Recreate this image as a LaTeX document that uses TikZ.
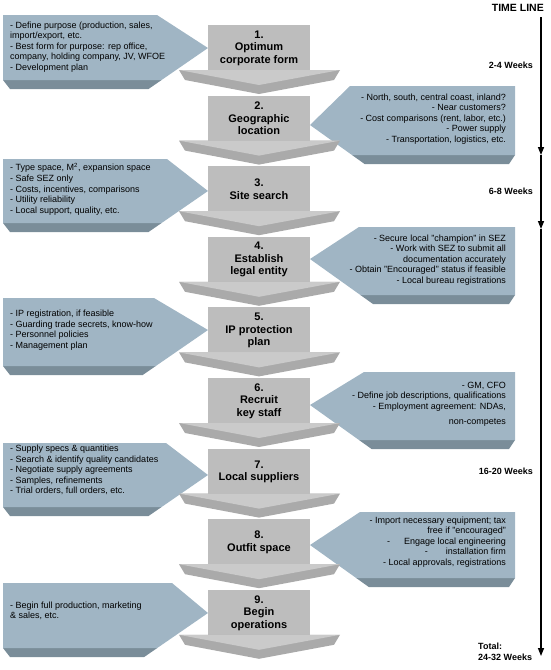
\documentclass[tikz,border=0pt]{standalone}
\usepackage{fontspec}
\setmainfont{Liberation Sans}
\usepackage{tikz}
\usetikzlibrary{arrows.meta,positioning}
\usepackage{xcolor}

\definecolor{boxgray}{HTML}{BDBDBD}
\definecolor{headtop}{HTML}{CACACA}
\definecolor{headfront}{HTML}{AAAAAA}
\definecolor{notelight}{HTML}{A0B5C4}
\definecolor{notedark}{HTML}{7A8D99}

\begin{document}
\begin{tikzpicture}[x=1pt,y=-1pt,
    stepbody/.style={fill=boxgray},
    steplabel/.style={align=center,inner sep=0pt,
      font=\fontsize{11}{12.5}\selectfont\bfseries},
    notetext/.style={inner sep=0pt,font=\fontsize{9}{10.6}\selectfont},
    weektext/.style={inner sep=0pt,font=\fontsize{9}{11}\selectfont\bfseries},
    timeline/.style={line width=1.4pt,-{Triangle[width=6pt,length=8pt]}}
  ]
    \useasboundingbox (0,0) rectangle (550,670);

    % Left callouts (shape first, text below)
    \foreach \n/\ytop/\ybot/\py/\cx in {1/15/89/48/157, 3/159/232/191/167,
        5/298/375/330/154, 7/443/516/475/166, 9/583/657/613/172} {
      \fill[notedark] (3,\ybot-9) -- ({208-1.45*(\ybot-9-\py)},\ybot-9)
        -- ({208-1.45*(\ybot-\py)},\ybot) -- (10,\ybot) -- cycle;
      \fill[notelight] (3,\ytop) -- (\cx,\ytop) -- (208,\py)
        -- ({208-1.45*(\ybot-9-\py)},\ybot-9) -- (3,\ybot-9) -- cycle;
    }

    % Right callouts
    \foreach \n/\ytop/\ybot/\py/\cx in {2/86/164/125/350, 4/227/304/259/359,
        6/372/449/405/364, 8/512/587/545/360} {
      \fill[notedark] ({310+1.4*(\ybot-9-\py)},\ybot-9) -- (515,\ybot-9)
        -- (509,\ybot) -- ({310+1.4*(\ybot-\py)},\ybot) -- cycle;
      \fill[notelight] (310,\py) -- (\cx,\ytop) -- (515,\ytop) -- (515,\ybot-9)
        -- ({310+1.4*(\ybot-9-\py)},\ybot-9) -- cycle;
    }

    % Step arrows
    \foreach \i/\lbl in {1/{1.\\Optimum\\corporate form}, 2/{2.\\Geographic\\location},
        3/{3.\\Site search}, 4/{4.\\Establish\\legal entity},
        5/{5.\\IP protection\\plan}, 6/{6.\\Recruit\\key staff},
        7/{7.\\Local suppliers}, 8/{8.\\Outfit space}, 9/{9.\\Begin\\operations}} {
      \pgfmathsetmacro{\t}{25+70.6*(\i-1)}
      \fill[stepbody] (208,\t) rectangle (310,\t+45);
      \fill[headfront] (179,\t+45) -- (340,\t+45) -- (334,\t+55)
        -- (259,\t+69) -- (185,\t+55) -- cycle;
      \fill[headtop] (179,\t+45) -- (340,\t+45) -- (259,\t+60) -- cycle;
      \node[steplabel] (box\i) at (259,\t+23) {\lbl};
    }

    % Callout texts
    \node[notetext,anchor=west,align=left] (note1) at (10,47) {%
      - Define purpose (production, sales,\\import/export, etc.\\
      - Best form for purpose: rep office,\\company, holding company, JV, WFOE\\
      - Development plan};
    \node[notetext,anchor=east,align=right] (note2) at (506,119) {%
      - North, south, central coast, inland?\\- Near customers?\\
      - Cost comparisons (rent, labor, etc.)\\- Power supply\\
      - Transportation, logistics, etc.};
    \node[notetext,anchor=west,align=left] (note3) at (10,189) {%
      - Type space, M\textsuperscript{2}, expansion space\\- Safe SEZ only\\
      - Costs, incentives, comparisons\\- Utility reliability\\
      - Local support, quality, etc.};
    \node[notetext,anchor=east,align=right] (note4) at (506,260) {%
      - Secure local "champion" in SEZ\\- Work with SEZ to submit all\\
      documentation accurately\\- Obtain "Encouraged" status if feasible\\
      - Local bureau registrations};
    \node[notetext,anchor=west,align=left] (note5) at (10,330) {%
      - IP registration, if feasible\\- Guarding trade secrets, know-how\\
      - Personnel policies\\- Management plan};
    \node[notetext,anchor=east,align=right] (note6) at (506,404) {%
      - GM, CFO\\- Define job descriptions, qualifications\\
      - Employment agreement: NDAs,\\[4pt]non-competes};
    \node[notetext,anchor=west,align=left] (note7) at (10,470) {%
      - Supply specs \& quantities\\- Search \& identify quality candidates\\
      - Negotiate supply agreements\\- Samples, refinements\\
      - Trial orders, full orders, etc.};
    \node[notetext,anchor=east,align=right] (note8) at (506,542) {%
      - Import necessary equipment; tax\\free if "encouraged"\\
      -\hspace{14pt}Engage local engineering\\-\hspace{18pt}installation firm\\
      - Local approvals, registrations};
    \node[notetext,anchor=west,align=left] (note9) at (10,611) {%
      - Begin full production, marketing\\\& sales, etc.};

    % Time line
    \node[inner sep=0pt,anchor=east,font=\fontsize{10.5}{12}\selectfont\bfseries]
      (tltitle) at (544,8) {TIME LINE};
    \coordinate (tl0) at (541,17);
    \coordinate (tl1) at (541,155);
    \coordinate (tl2) at (541,229);
    \coordinate (tl3) at (541,656);
    \draw[timeline] (tl0) -- (tl1);
    \draw[timeline] (tl1) -- (tl2);
    \draw[timeline] (tl2) -- (tl3);

    \node[weektext,anchor=east] (wk1) at (533,65) {2-4 Weeks};
    \node[weektext,anchor=east] (wk2) at (533,191) {6-8 Weeks};
    \node[weektext,anchor=east] (wk3) at (533,471) {16-20 Weeks};
    \node[weektext,anchor=north west,align=left] (wk4) at (478,643)
      {Total:\\24-32 Weeks};
\end{tikzpicture}
\end{document}
